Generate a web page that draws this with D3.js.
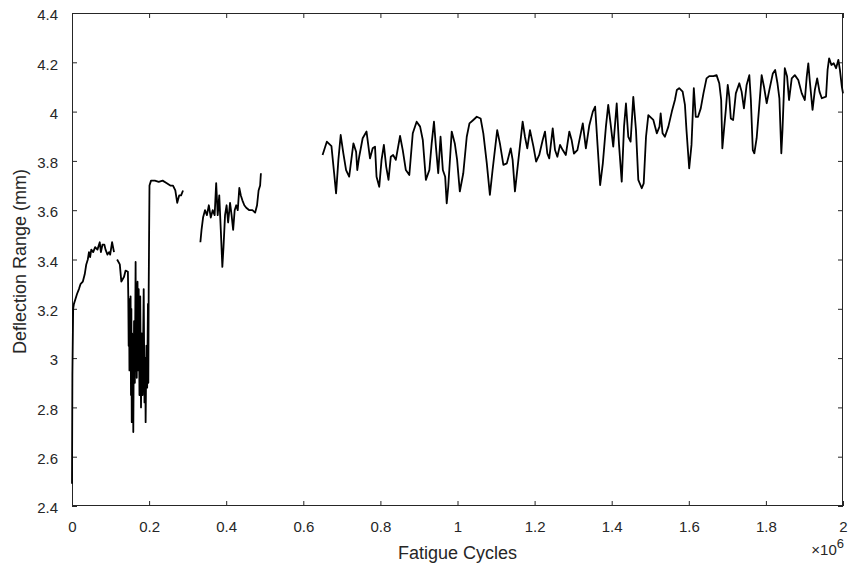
<!DOCTYPE html>
<html>
<head>
<meta charset="utf-8">
<title>Deflection Range vs Fatigue Cycles</title>
<script src="https://d3js.org/d3.v7.min.js"></script>
<style>
    html, body {
        margin: 0;
        background: white;
    }
    text {
        font-family: 'Liberation Sans', Arial, sans-serif;
        fill: #262626;
    }
</style>
</head>
<body>
<script>

//DATA  (cycles in units of 10^6, null = break in the trace)
const cycles = [
    0.000, 0.001, 0.003, 0.005, 0.009, 0.013, 0.018, 0.022, 0.028, 0.033,
    0.037, 0.041, 0.044, 0.047, 0.050, 0.055, 0.060, 0.066, 0.072, 0.075,
    0.079, 0.084, 0.087, 0.092, 0.096, 0.099, 0.104, 0.109, 0.112,
    0.117, 0.124, 0.128, 0.135, 0.139, 0.145, 0.146, 0.147, 0.148, 0.149,
    0.150, 0.151, 0.152, 0.153, 0.154, 0.155, 0.156, 0.157, 0.158, 0.159,
    0.160, 0.161, 0.163, 0.165, 0.166, 0.167, 0.168, 0.170, 0.171, 0.173,
    0.175, 0.177, 0.179, 0.181, 0.183, 0.186, 0.188, 0.190, 0.191, 0.193,
    0.195, 0.197, 0.198, 0.199, 0.201, 0.205, 0.215, 0.225, 0.235, 0.245,
    0.255, 0.262, 0.268, 0.273, 0.278, 0.283, 0.288,
    0.300,
    0.333, 0.336, 0.340, 0.345, 0.350, 0.355, 0.360, 0.365, 0.370, 0.374,
    0.378, 0.382, 0.386, 0.390, 0.393, 0.397, 0.401, 0.405, 0.410, 0.414,
    0.418, 0.422, 0.426, 0.430, 0.434, 0.438, 0.442, 0.447, 0.452, 0.460,
    0.468, 0.475, 0.480, 0.484, 0.488, 0.490,
    0.550,
    0.650, 0.661, 0.673, 0.680, 0.685, 0.691, 0.697, 0.704, 0.711, 0.719,
    0.730, 0.737, 0.740, 0.745, 0.754, 0.764, 0.773, 0.780, 0.786, 0.790,
    0.797, 0.803, 0.809, 0.815, 0.821, 0.827, 0.833, 0.840, 0.851, 0.858,
    0.866, 0.875, 0.884, 0.894, 0.903, 0.910, 0.918, 0.927, 0.933, 0.939,
    0.944, 0.950, 0.956, 0.962, 0.968, 0.972, 0.976, 0.985, 0.993, 0.999,
    1.006, 1.015, 1.024, 1.031, 1.041, 1.050, 1.060, 1.067, 1.076, 1.084,
    1.091, 1.103, 1.110, 1.119, 1.128, 1.138, 1.143, 1.149, 1.158, 1.169,
    1.175, 1.181, 1.188, 1.197, 1.204, 1.212, 1.221, 1.227, 1.233, 1.238,
    1.247, 1.253, 1.259, 1.266, 1.273, 1.281, 1.290, 1.296, 1.302, 1.311,
    1.325, 1.333, 1.342, 1.351, 1.357, 1.363, 1.370, 1.377, 1.385, 1.391,
    1.397, 1.404, 1.413, 1.419, 1.426, 1.432, 1.437, 1.443, 1.449, 1.456,
    1.463, 1.469, 1.478, 1.483, 1.489, 1.495, 1.508, 1.517, 1.524, 1.527,
    1.532, 1.538, 1.547, 1.556, 1.564, 1.569, 1.575, 1.584, 1.590, 1.594,
    1.601, 1.607, 1.613, 1.618, 1.624, 1.631, 1.638, 1.646, 1.653, 1.664,
    1.672, 1.679, 1.684, 1.687, 1.692, 1.696, 1.701, 1.705, 1.709, 1.715,
    1.722, 1.731, 1.737, 1.743, 1.750, 1.757, 1.761, 1.766, 1.770, 1.776,
    1.783, 1.789, 1.795, 1.802, 1.809, 1.818, 1.824, 1.830, 1.835, 1.840,
    1.843, 1.849, 1.855, 1.860, 1.867, 1.875, 1.884, 1.893, 1.901, 1.906,
    1.910, 1.914, 1.921, 1.927, 1.933, 1.939, 1.945, 1.956, 1.960, 1.964,
    1.970, 1.976, 1.982, 1.988, 1.992, 1.997, 2.000
]

const deflection = [
    2.49, 2.93, 3.20, 3.22, 3.24, 3.26, 3.28, 3.30, 3.31, 3.34,
    3.38, 3.40, 3.43, 3.41, 3.44, 3.43, 3.45, 3.44, 3.47, 3.43,
    3.46, 3.46, 3.44, 3.42, 3.43, 3.42, 3.47, 3.43, null,
    3.40, 3.38, 3.31, 3.33, 3.355, 3.35, 3.25, 3.05, 3.24, 2.95,
    3.22, 3.02, 3.25, 2.85, 3.20, 2.74, 3.10, 2.80, 3.05, 2.70,
    2.95, 3.15, 2.90, 3.39, 2.95, 3.30, 2.92, 3.31, 2.95, 3.28,
    2.85, 3.25, 2.80, 3.10, 2.85, 3.28, 2.82, 3.00, 2.74, 3.05,
    2.88, 3.22, 2.90, 3.29, 3.70, 3.72, 3.72, 3.715, 3.72, 3.71,
    3.70, 3.70, 3.68, 3.63, 3.66, 3.66, 3.68,
    null,
    3.47, 3.52, 3.57, 3.60, 3.58, 3.62, 3.57, 3.60, 3.58, 3.71,
    3.58, 3.66, 3.52, 3.37, 3.45, 3.58, 3.62, 3.55, 3.63, 3.58,
    3.52, 3.60, 3.62, 3.60, 3.69, 3.66, 3.64, 3.62, 3.61, 3.60,
    3.60, 3.59, 3.62, 3.68, 3.70, 3.75,
    null,
    3.824, 3.878, 3.860, 3.750, 3.668, 3.804, 3.905, 3.830, 3.763, 3.736,
    3.871, 3.837, 3.763, 3.817, 3.892, 3.919, 3.810, 3.851, 3.858, 3.736,
    3.695, 3.804, 3.865, 3.777, 3.723, 3.817, 3.824, 3.804, 3.901, 3.844,
    3.763, 3.743, 3.912, 3.959, 3.939, 3.885, 3.723, 3.763, 3.871, 3.959,
    3.858, 3.750, 3.898, 3.763, 3.736, 3.628, 3.695, 3.919, 3.871, 3.804,
    3.676, 3.750, 3.898, 3.952, 3.966, 3.979, 3.972, 3.912, 3.790, 3.662,
    3.763, 3.925, 3.871, 3.784, 3.790, 3.851, 3.804, 3.676, 3.804, 3.959,
    3.898, 3.851, 3.925, 3.858, 3.797, 3.824, 3.885, 3.919, 3.830, 3.810,
    3.932, 3.844, 3.817, 3.865, 3.844, 3.824, 3.919, 3.885, 3.830, 3.844,
    3.952, 3.851, 3.945, 4.000, 4.020, 3.871, 3.702, 3.790, 3.939, 4.027,
    3.952, 3.858, 4.033, 3.865, 3.716, 3.939, 4.033, 3.898, 3.878, 4.060,
    3.925, 3.723, 3.689, 3.709, 3.898, 3.986, 3.966, 3.912, 3.939, 3.993,
    3.912, 3.898, 3.939, 4.000, 4.047, 4.088, 4.095, 4.081, 4.027, 3.925,
    3.770, 3.865, 4.095, 3.979, 3.979, 4.013, 4.074, 4.135, 4.144, 4.144,
    4.148, 4.115, 4.047, 3.851, 3.939, 4.007, 4.108, 4.061, 3.972, 3.966,
    4.074, 4.115, 4.081, 4.013, 4.108, 4.148, 4.047, 3.844, 3.831, 3.892,
    4.027, 4.148, 4.101, 4.034, 4.088, 4.155, 4.169, 4.115, 4.054, 3.831,
    3.925, 4.176, 4.142, 4.047, 4.135, 4.148, 4.128, 4.074, 4.047, 4.142,
    4.196, 4.122, 4.007, 4.088, 4.135, 4.081, 4.054, 4.061, 4.169, 4.216,
    4.189, 4.196, 4.176, 4.210, 4.169, 4.101, 4.074
]

const xTicks = [0, 0.2, 0.4, 0.6, 0.8, 1, 1.2, 1.4, 1.6, 1.8, 2]
const yTicks = [2.4, 2.6, 2.8, 3, 3.2, 3.4, 3.6, 3.8, 4, 4.2, 4.4]
const xLabel = 'Fatigue Cycles'
const yLabel = 'Deflection Range (mm)'

//LAYOUT
const W = 849, H = 569
const m = {left: 72, right: 6, top: 13, bottom: 63}
const iw = W - m.left - m.right
const ih = H - m.top - m.bottom
const axisCol = '#262626'

const svg = d3.select('body').append('svg')
    .attr('width', W)
    .attr('height', H)

const x = d3.scaleLinear().domain([0, 2]).range([m.left, m.left + iw])
const y = d3.scaleLinear().domain([2.4, 4.4]).range([m.top + ih, m.top])

const fmt = d => d3.format('~g')(+d.toFixed(1))

//AXES (matlab style: inward ticks, box with mirrored ticks)
function styleAxis(g){
    g.select('.domain').remove()
    g.selectAll('.tick line').attr('stroke', axisCol).attr('stroke-width', 1)
    g.selectAll('.tick text')
        .attr('fill', axisCol)
        .style('font-size', '15px')
}

svg.append('g')
    .attr('transform', 'translate(0,' + (m.top + ih) + ')')
    .call(d3.axisBottom(x).tickValues(xTicks).tickSizeInner(-5).tickSizeOuter(0)
        .tickPadding(15).tickFormat(fmt))
    .call(styleAxis)

svg.append('g')
    .attr('transform', 'translate(0,' + m.top + ')')
    .call(d3.axisTop(x).tickValues(xTicks).tickSizeInner(-5).tickSizeOuter(0).tickFormat(''))
    .call(styleAxis)

const yAxis = svg.append('g')
    .attr('transform', 'translate(' + m.left + ',0)')
    .call(d3.axisLeft(y).tickValues(yTicks).tickSizeInner(-5).tickSizeOuter(0)
        .tickPadding(14).tickFormat(fmt))
    .call(styleAxis)
yAxis.selectAll('.tick text').attr('dy', '0.45em')

svg.append('g')
    .attr('transform', 'translate(' + (m.left + iw) + ',0)')
    .call(d3.axisRight(y).tickValues(yTicks).tickSizeInner(-5).tickSizeOuter(0).tickFormat(''))
    .call(styleAxis)

svg.append('rect')
    .attr('x', m.left + 0.5)
    .attr('y', m.top + 0.5)
    .attr('width', iw - 1)
    .attr('height', ih - 1)
    .attr('fill', 'none')
    .attr('stroke', axisCol)
    .attr('stroke-width', 1)

//LINE
const pts = cycles.map((c, i) => ({c: c, v: deflection[i]}))

const line = d3.line()
    .defined(d => d.v != null)
    .x(d => x(d.c))
    .y(d => y(d.v))

svg.append('path')
    .datum(pts)
    .attr('d', line)
    .attr('fill', 'none')
    .attr('stroke', 'black')
    .attr('stroke-width', 1.8)
    .attr('stroke-linejoin', 'round')

//LABELS
svg.append('text')
    .attr('x', m.left + iw / 2)
    .attr('y', 559)
    .attr('text-anchor', 'middle')
    .style('font-size', '18px')
    .text(xLabel)

svg.append('text')
    .attr('transform', 'translate(26,' + (m.top + ih / 2 + 2) + ') rotate(-90)')
    .attr('text-anchor', 'middle')
    .style('font-size', '18px')
    .text(yLabel)

const exp = svg.append('text')
    .attr('x', m.left + iw + 1)
    .attr('y', 555)
    .attr('text-anchor', 'end')
    .style('font-size', '15px')
exp.append('tspan').text('\u00d710')
exp.append('tspan').attr('dy', -7).style('font-size', '13px').text('6')

</script>
</body>
</html>
